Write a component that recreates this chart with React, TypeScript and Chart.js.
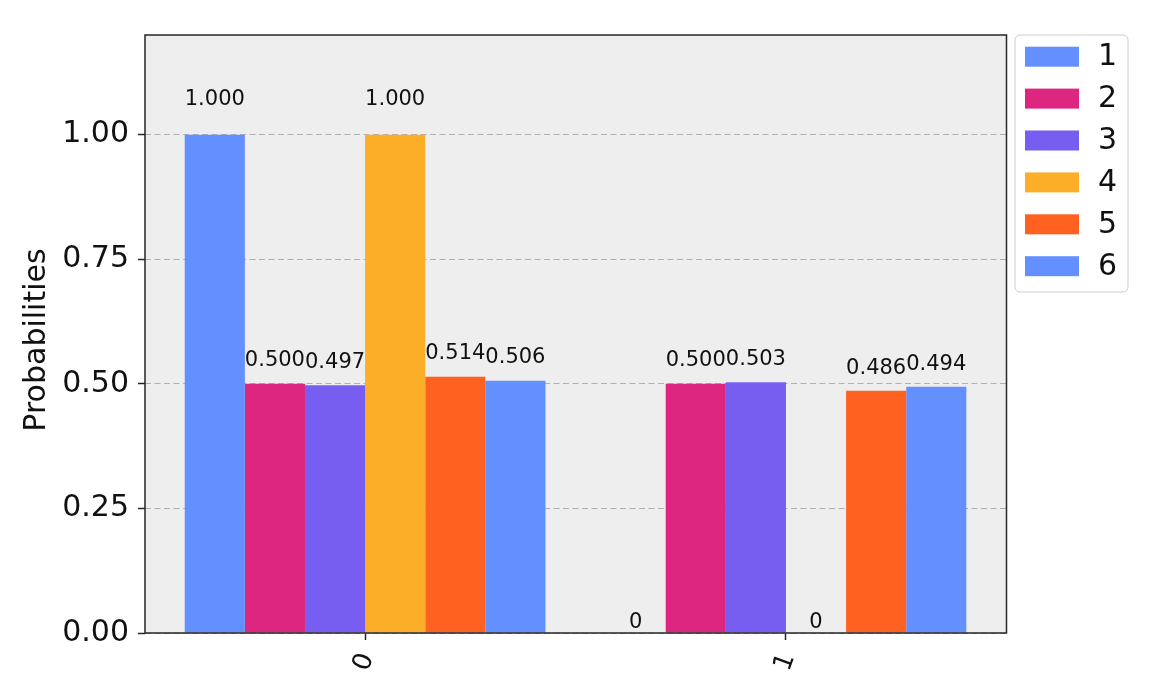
import React, { useEffect, useRef } from "react";
import { Chart, registerables } from "chart.js";

Chart.register(...registerables);

const categories: string[] = ["0", "1"];
const seriesNames: string[] = ["1", "2", "3", "4", "5", "6"];
const series1: number[] = [1.0, 0];
const series2: number[] = [0.5, 0.5];
const series3: number[] = [0.497, 0.503];
const series4: number[] = [1.0, 0];
const series5: number[] = [0.514, 0.486];
const series6: number[] = [0.506, 0.494];
const seriesValues: number[][] = [series1, series2, series3, series4, series5, series6];
const seriesColors: string[] = ["#648fff", "#dc267f", "#785ef0", "#fcae28", "#fe6120", "#648fff"];
const yTicks: number[] = [0, 0.25, 0.5, 0.75, 1.0];

const FONT = "'DejaVu Sans', sans-serif";

const decorPlugin = {
  id: "decor",
  beforeDraw(chart: any) {
    const { ctx, chartArea } = chart;
    ctx.save();
    ctx.fillStyle = "#eeeeee";
    ctx.fillRect(chartArea.left, chartArea.top, chartArea.right - chartArea.left, chartArea.bottom - chartArea.top);
    ctx.restore();
  },
  afterDatasetsDraw(chart: any) {
    const { ctx } = chart;
    const yScale = chart.scales.y;
    ctx.save();
    ctx.font = `21px ${FONT}`;
    ctx.fillStyle = "#111";
    ctx.textAlign = "center";
    ctx.textBaseline = "alphabetic";
    chart.data.datasets.forEach((ds: any, di: number) => {
      const meta = chart.getDatasetMeta(di);
      meta.data.forEach((bar: any, i: number) => {
        const v = ds.data[i].y;
        const label = v > 1e-3 ? v.toFixed(3) : "0";
        const yPix = yScale.getPixelForValue(1.05 * v);
        ctx.fillText(label, bar.x, yPix - 5);
      });
    });
    ctx.restore();
  },
  afterDraw(chart: any) {
    const { ctx, chartArea } = chart;
    ctx.save();
    // frame
    ctx.strokeStyle = "#262626";
    ctx.lineWidth = 1.5;
    ctx.strokeRect(chartArea.left, chartArea.top, chartArea.right - chartArea.left, chartArea.bottom - chartArea.top);
    // y title
    ctx.fillStyle = "#111";
    ctx.font = `30px ${FONT}`;
    ctx.textAlign = "center";
    ctx.textBaseline = "middle";
    ctx.translate(37, (chartArea.top + chartArea.bottom) / 2 + 6);
    ctx.rotate(-Math.PI / 2);
    ctx.fillText("Probabilities", 0, 0);
    ctx.restore();

    // legend
    ctx.save();
    const bx = chartArea.right + 8.5;
    const by = chartArea.top;
    const bw = 113;
    const bh = 257;
    const r = 5;
    ctx.beginPath();
    ctx.moveTo(bx + r, by);
    ctx.lineTo(bx + bw - r, by);
    ctx.arcTo(bx + bw, by, bx + bw, by + r, r);
    ctx.lineTo(bx + bw, by + bh - r);
    ctx.arcTo(bx + bw, by + bh, bx + bw - r, by + bh, r);
    ctx.lineTo(bx + r, by + bh);
    ctx.arcTo(bx, by + bh, bx, by + bh - r, r);
    ctx.lineTo(bx, by + r);
    ctx.arcTo(bx, by, bx + r, by, r);
    ctx.closePath();
    ctx.fillStyle = "rgba(255,255,255,0.8)";
    ctx.fill();
    ctx.strokeStyle = "#cccccc";
    ctx.lineWidth = 1;
    ctx.stroke();
    ctx.font = `30px ${FONT}`;
    ctx.textAlign = "left";
    ctx.textBaseline = "middle";
    chart.data.datasets.forEach((ds: any, i: number) => {
      const cy = by + 21.7 + i * 41.9;
      ctx.fillStyle = ds.backgroundColor;
      ctx.fillRect(bx + 10, cy - 10, 54, 20);
      ctx.fillStyle = "#111";
      ctx.fillText(ds.label, bx + 83, cy + 1);
    });
    ctx.restore();
  },
};

export default function App() {
  const canvasRef = useRef<HTMLCanvasElement | null>(null);

  useEffect(() => {
    if (!canvasRef.current) return;
    const datasets = seriesNames.map((name, si) => ({
      label: name,
      data: seriesValues[si].map((v, ci) => ({ x: ci, y: v })),
      backgroundColor: seriesColors[si],
      borderWidth: 0,
      categoryPercentage: 6 / 7,
      barPercentage: 1,
    }));
    const chart = new Chart(canvasRef.current, {
      type: "bar",
      data: { datasets },
      options: {
        responsive: false,
        animation: false,
        layout: { padding: { left: 0, top: 35, right: 145.5, bottom: 0 } },
        plugins: { legend: { display: false }, tooltip: { enabled: false } },
        scales: {
          x: {
            type: "linear",
            min: -0.523,
            max: 1.524,
            offset: false,
            grid: {
              offset: false,
              drawOnChartArea: false,
              drawTicks: true,
              tickLength: 7,
              tickColor: "#262626",
              tickWidth: 1.5,
              tickBorderDash: [],
            },
            border: { display: false },
            ticks: {
              stepSize: 1,
              includeBounds: false,
              autoSkip: false,
              minRotation: 70,
              maxRotation: 70,
              padding: 9,
              labelOffset: 2,
              color: "#111",
              font: { family: FONT, size: 26 },
              callback: (value: any) => {
                const idx = Math.round(Number(value));
                return Math.abs(Number(value) - idx) < 1e-9 && categories[idx] !== undefined ? categories[idx] : "";
              },
            },
            afterFit: (scale: any) => {
              scale.height = 63;
            },
          },
          y: {
            min: 0,
            max: 1.2,
            grid: {
              color: "#b0b0b0",
              lineWidth: 1,
              drawTicks: true,
              tickLength: 7,
              tickColor: "#262626",
              tickWidth: 1.5,
              tickBorderDash: [],
            },
            border: { display: false, dash: [6, 3.5] },
            ticks: {
              stepSize: 0.25,
              includeBounds: false,
              padding: 9,
              color: "#111",
              font: { family: FONT, size: 30 },
              callback: (value: any) => {
                const v = Number(value);
                return yTicks.some((t) => Math.abs(t - v) < 1e-9) ? v.toFixed(2) : "";
              },
            },
            afterFit: (scale: any) => {
              scale.width = 145;
            },
          },
        },
      },
      plugins: [decorPlugin],
    });
    return () => chart.destroy();
  }, []);

  return (
    <canvas
      ref={canvasRef}
      width={1152}
      height={696}
      style={{ position: "absolute", left: 0, top: 0, display: "block", width: 1152, height: 696 }}
    />
  );
}
